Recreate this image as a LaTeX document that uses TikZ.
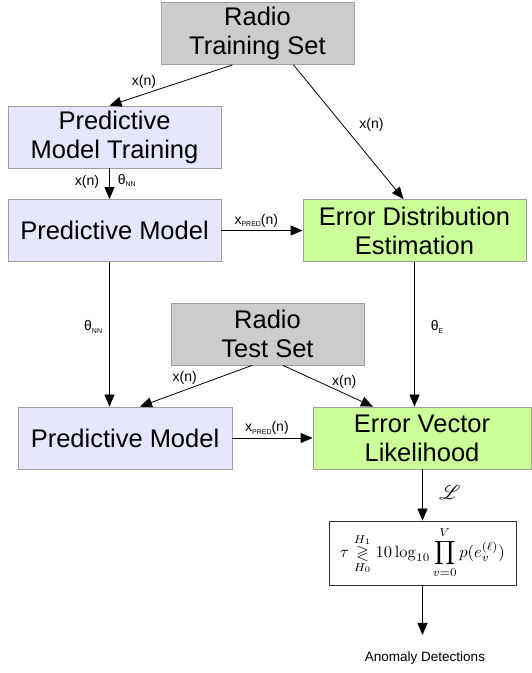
\documentclass[tikz,border=0pt]{standalone}
\usepackage[no-math]{fontspec}
\setmainfont{Liberation Sans}
\usepackage{amsmath}
\usepackage{amssymb}
\usepackage{mathrsfs}
\usepackage{graphicx}
\usepackage{tikz}
\usetikzlibrary{arrows.meta}
\definecolor{setGray}{HTML}{CCCCCC}
\definecolor{modelBlue}{HTML}{E6E6FF}
\definecolor{errGreen}{HTML}{CCFF99}
\newcommand{\sub}[1]{\raisebox{-2.5pt}{\fontsize{7}{8}\selectfont #1}}

\begin{document}
\begin{tikzpicture}[x=1pt, y=1pt,
    block/.style={draw=gray!75, line width=0.8pt, align=center, inner sep=0pt,
        font=\fontsize{25.5}{29}\selectfont, minimum height=62pt},
    conn/.style={line width=0.8pt, -{Triangle[length=12pt, width=10pt]}},
    lbl/.style={font=\fontsize{14}{15}\selectfont, inner sep=2pt}]
    \useasboundingbox (0,0) rectangle (532,673);
    % inputs
    \node[block, fill=setGray, minimum width=193pt] (trainset) at (257.5,639.5) {Radio\\Training Set};
    \node[block, fill=setGray, minimum width=193pt] (testset) at (267.5,339) {Radio\\Test Set};
    % models
    \node[block, fill=modelBlue, minimum width=213pt] (training) at (114.5,536) {Predictive\\Model Training};
    \node[block, fill=modelBlue, minimum width=213pt] (model) at (114.5,442.5) {Predictive Model};
    \node[block, fill=modelBlue, minimum width=214pt] (testmodel) at (125,235) {Predictive Model};
    % error blocks
    \node[block, fill=errGreen, minimum width=223pt] (errdist) at (414.5,442.5) {Error Distribution\\Estimation};
    \node[block, fill=errGreen, minimum width=218pt] (errvec) at (422,235) {Error Vector\\Likelihood};
    % decision
    \node[draw=black!80, line width=0.8pt, minimum width=187pt, minimum height=64pt, inner sep=0pt] (decide) at (422.5,120)
        {\scalebox{1.65}{$\tau \underset{H_0}{\overset{H_1}{\gtrless}} 10\log_{10}\displaystyle\prod_{v=0}^{V} p(e_v^{(\ell)})$}};
    \node[font=\fontsize{13.5}{14}\selectfont] (anomaly) at (425,15) {Anomaly Detections};
    \coordinate (detect) at (422.5,38);

    \draw[conn] ([xshift=-25pt]trainset.south) -- ([xshift=-5pt]training.north)
        node[lbl, pos=0.72, above=3pt] {x(n)};
    \draw[conn] ([xshift=36pt]trainset.south) -- ([xshift=-11pt]errdist.north)
        node[lbl, pos=0.45, right=14pt] {x(n)};
    \draw[conn] ([xshift=-5pt]training.south) -- ([xshift=-5pt]model.north)
        node[lbl, pos=0.45, left=8pt] {x(n)}
        node[lbl, pos=0.4, right=6pt] {θ\sub{NN}};
    \draw[conn] (model.east) -- (errdist.west)
        node[lbl, pos=0.43, above=1pt] {x\sub{PRED}(n)};
    \draw[conn] ([xshift=-5pt]model.south) -- ([xshift=-5pt]model.south |- testmodel.north)
        node[lbl, pos=0.45, left=5pt] {θ\sub{NN}};
    \draw[conn] (errdist.south) -- (errdist.south |- errvec.north)
        node[lbl, pos=0.45, right=14pt] {θ\sub{E}};
    \draw[conn] ([xshift=-15.5pt]testset.south) -- ([xshift=15pt]testmodel.north)
        node[lbl, pos=0.6, above=3pt] {x(n)};
    \draw[conn] ([xshift=15.5pt]testset.south) -- ([xshift=-49pt]errvec.north)
        node[lbl, pos=0.68, above=3pt] {x(n)};
    \draw[conn] (testmodel.east) -- (errvec.west)
        node[lbl, pos=0.43, above=1pt] {x\sub{PRED}(n)};
    \draw[conn] ([xshift=0.5pt]errvec.south) -- (decide.north)
        node[pos=0.45, right=13pt] {\scalebox{2}{$\mathscr{L}$}};
    \draw[conn] (decide.south) -- (detect);
\end{tikzpicture}
\end{document}
